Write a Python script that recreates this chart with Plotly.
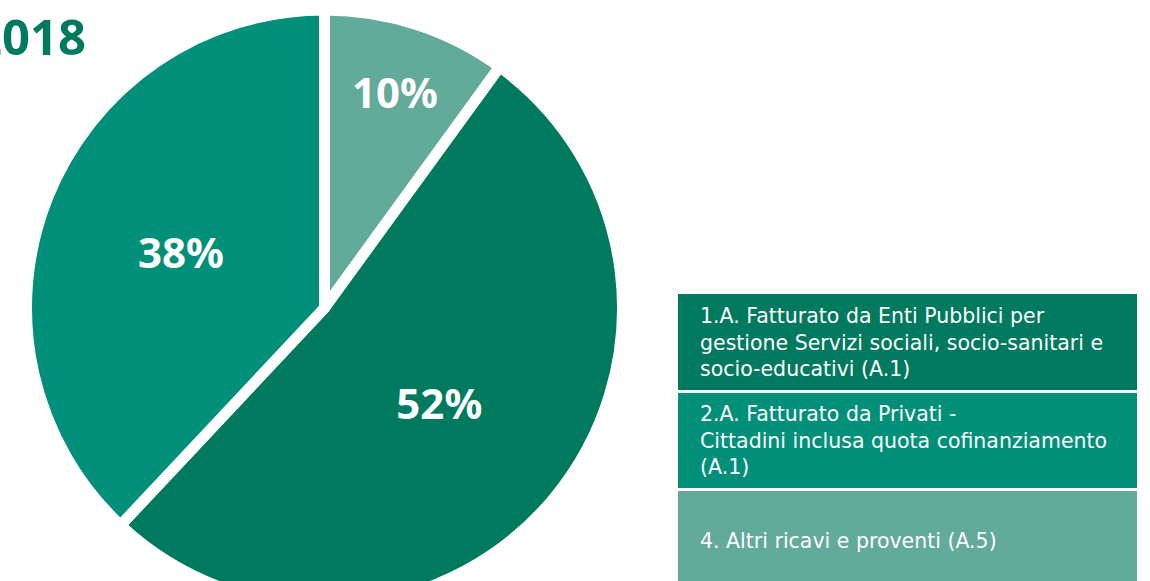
import plotly.graph_objects as go

# ---- data ----
slice_labels = ["4. Altri ricavi e proventi (A.5)",
                "1.A. Fatturato da Enti Pubblici",
                "2.A. Fatturato da Privati - Cittadini"]
slice_values = [10, 52, 38]
slice_colors = ["#62AA9A", "#007A5E", "#00907A"]

legend_texts = [
    "1.A. Fatturato da Enti Pubblici per<br>gestione Servizi sociali, socio-sanitari e<br>socio-educativi (A.1)",
    "2.A. Fatturato da Privati -<br>Cittadini inclusa quota cofinanziamento<br>(A.1)",
    "4. Altri ricavi e proventi (A.5)",
]
legend_colors = ["#007A5E", "#00907A", "#62AA9A"]
title_text = "2018"

# ---- layout helpers (pixels -> paper) ----
W, H = 1150, 612
def px(x):
    return x / W
def py(y):
    return (H - y) / H

fig = go.Figure()
fig.add_trace(go.Pie(
    labels=slice_labels,
    values=slice_values,
    sort=False,
    direction="clockwise",
    rotation=0,
    marker=dict(colors=slice_colors, line=dict(color="white", width=11)),
    textinfo="percent",
    textposition="inside",
    insidetextorientation="horizontal",
    textfont=dict(family="Noto Sans", size=42, color="white", weight="bold"),
    hoverinfo="label+percent",
    domain=dict(x=[px(26.5), px(622.5)], y=[py(606), py(10)]),
    showlegend=False,
))

# legend boxes
boxes = [(294, 390), (393, 488), (491, 612)]
for (y0, y1), col, txt in zip(boxes, legend_colors, legend_texts):
    fig.add_shape(type="rect", xref="paper", yref="paper",
                  x0=px(678), x1=px(1137), y0=py(y1), y1=py(y0),
                  fillcolor=col, line=dict(width=0), layer="below")
    yc = (y0 + y1) / 2 if y1 < 590 else 541
    fig.add_annotation(xref="paper", yref="paper", x=px(698), y=py(yc),
                       xanchor="left", yanchor="middle", align="left",
                       text=txt, showarrow=False,
                       font=dict(family="DejaVu Sans", size=20.5, color="white"))

fig.add_annotation(xref="paper", yref="paper", x=px(88), y=py(36),
                   xanchor="right", yanchor="middle", text=title_text,
                   showarrow=False,
                   font=dict(family="Noto Sans", size=49, color="#007A5E", weight="bold"))

fig.update_layout(width=W, height=H, margin=dict(l=0, r=0, t=0, b=0),
                  paper_bgcolor="white", plot_bgcolor="white")

fig.write_html("out.html", config={"displayModeBar": False},
               post_script="document.body.style.overflow='hidden';document.body.style.margin='0';")
